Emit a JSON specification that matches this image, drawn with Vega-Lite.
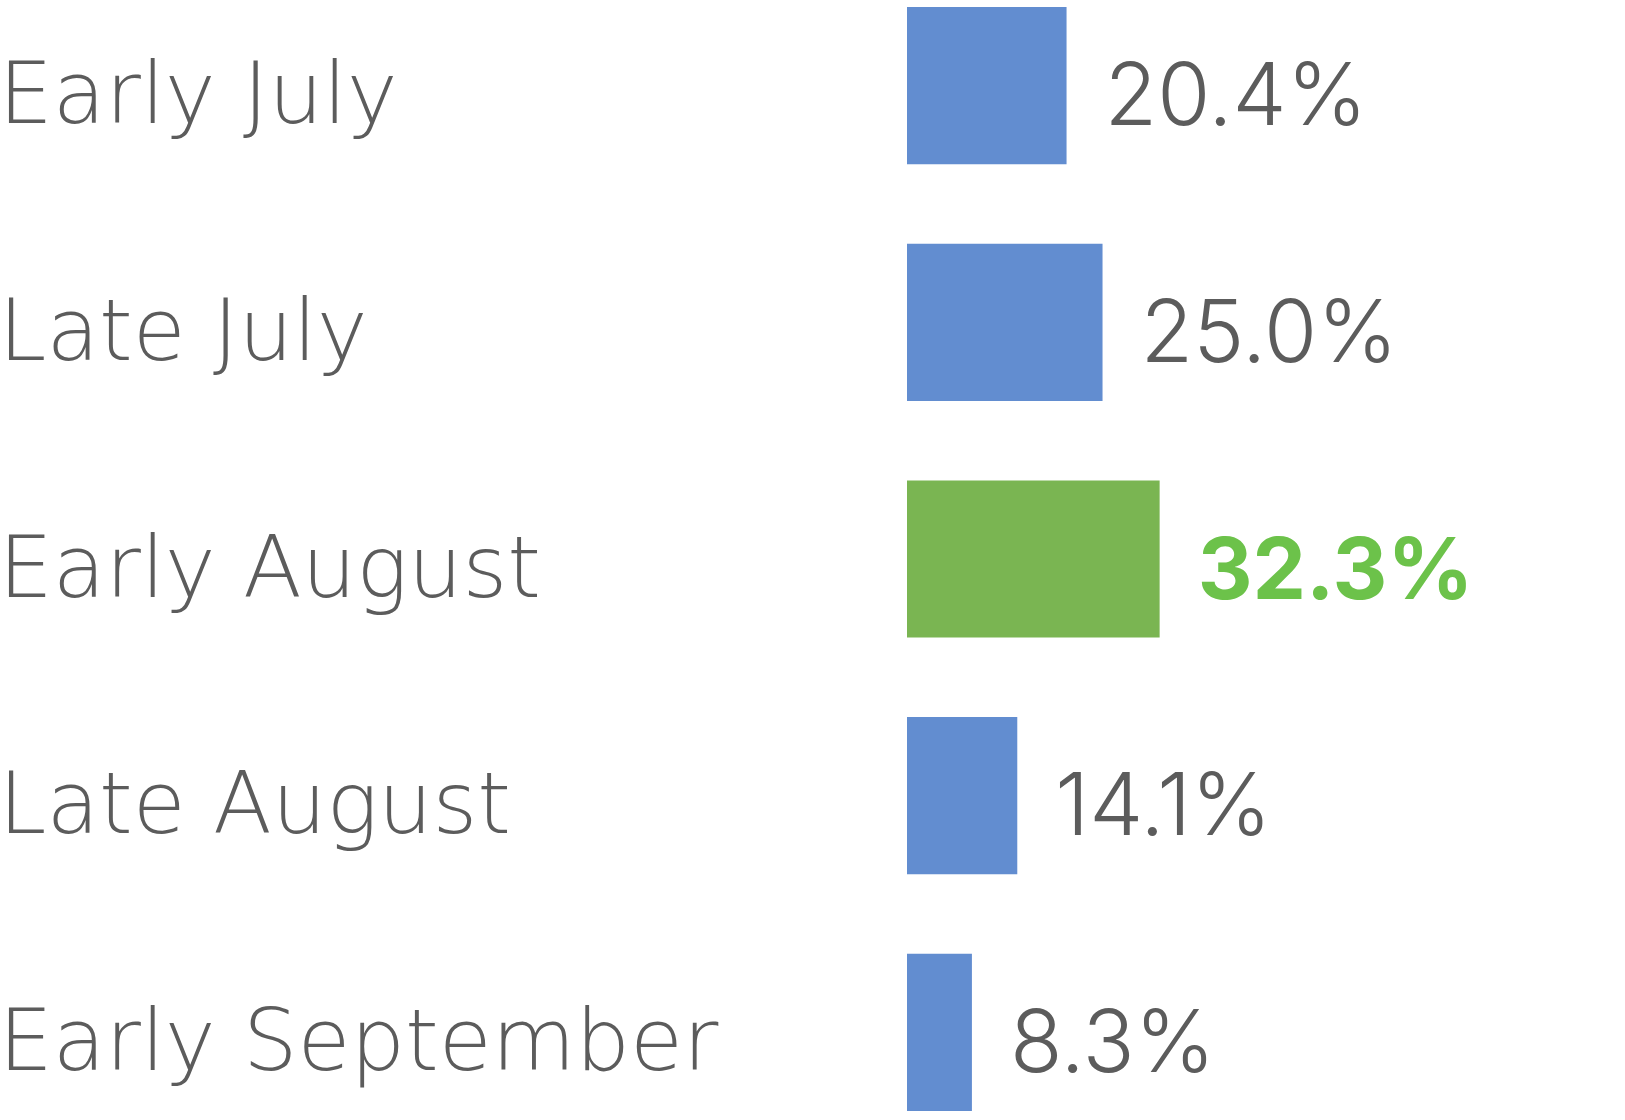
{
  "$schema": "https://vega.github.io/schema/vega-lite/v6.json",
  "autosize": {"type": "none"},
  "width": 718,
  "height": 1104,
  "padding": {"left": 907, "top": 7, "right": 0, "bottom": 9},
  "background": "#ffffff",
  "config": {"view": {"stroke": null}},
  "data": {
    "values": [
      {"period": "Early July", "pct": 20.4, "label": "20.4%", "highlight": "no"},
      {"period": "Late July", "pct": 25.0, "label": "25.0%", "highlight": "no"},
      {"period": "Early August", "pct": 32.3, "label": "32.3%", "highlight": "yes"},
      {"period": "Late August", "pct": 14.1, "label": "14.1%", "highlight": "no"},
      {"period": "Early September", "pct": 8.3, "label": "8.3%", "highlight": "no"}
    ]
  },
  "encoding": {
    "y": {
      "field": "period",
      "type": "nominal",
      "sort": null,
      "scale": {"paddingInner": 0.336, "paddingOuter": 0},
      "axis": {
        "title": null,
        "domain": false,
        "ticks": false,
        "tickSize": 0,
        "labelAlign": "left",
        "labelPadding": 909,
        "labelLimit": 0,
        "labelFont": "DejaVu Sans",
        "labelFontWeight": 200,
        "labelFontSize": 86,
        "labelColor": "#5c5c5c",
        "labelBaseline": "alphabetic",
        "labelOffset": 37.5,
        "encode": {"labels": {"update": {"stroke": {"value": "#5c5c5c"}, "strokeWidth": {"value": 1.3}}}}
      }
    },
    "x": {
      "field": "pct",
      "type": "quantitative",
      "scale": {"domain": [0, 91.8], "nice": false},
      "axis": null
    }
  },
  "layer": [
    {
      "mark": {"type": "bar"},
      "encoding": {
        "color": {
          "field": "highlight",
          "type": "nominal",
          "scale": {"domain": ["no", "yes"], "range": ["#628dd0", "#7ab552"]},
          "legend": null
        }
      }
    },
    {
      "transform": [{"filter": "datum.highlight == 'no'"}],
      "mark": {"type": "text", "align": "left", "baseline": "alphabetic", "dx": 38, "dy": 39.5, "font": "Inter", "fontWeight": 300, "fontSize": 86, "color": "#5c5c5c"},
      "encoding": {"text": {"field": "label"}}
    },
    {
      "transform": [{"filter": "datum.highlight == 'yes'"}],
      "mark": {"type": "text", "align": "left", "baseline": "alphabetic", "dx": 38, "dy": 39.5, "font": "Inter", "fontWeight": 700, "fontSize": 85, "color": "#6cc24a"},
      "encoding": {"text": {"field": "label"}}
    }
  ]
}
